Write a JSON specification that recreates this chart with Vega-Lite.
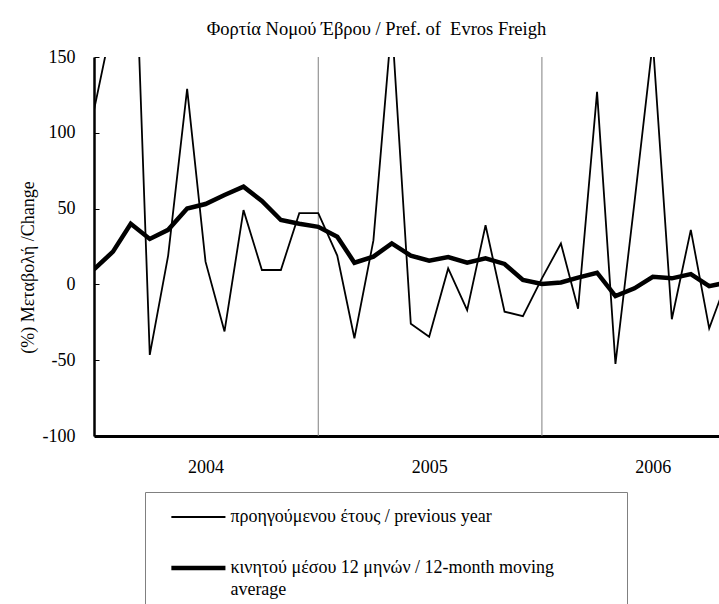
{
  "$schema": "https://vega.github.io/schema/vega-lite/v6.json",
  "width": 625,
  "height": 379,
  "autosize": "none",
  "padding": {"left": 94, "top": 57, "right": 0, "bottom": 168},
  "background": "white",
  "config": {
    "view": {"stroke": null},
    "font": "Liberation Serif",
    "axis": {"labelFont": "Liberation Serif", "titleFont": "Liberation Serif", "labelColor": "black", "titleColor": "black"},
    "legend": {"labelFont": "Liberation Serif"}
  },
  "title": {
    "text": "Φορτία Νομού Έβρου / Pref. of \u00a0Evros Freigh",
    "font": "Liberation Serif",
    "fontSize": 18.5,
    "fontWeight": "normal",
    "color": "black",
    "offset": 10,
    "dx": -30
  },
  "datasets": {
    "series": [
      {"date": "2004-01-01", "s": "yoy", "value": 115},
      {"date": "2004-02-01", "s": "yoy", "value": 175},
      {"date": "2004-03-01", "s": "yoy", "value": 310},
      {"date": "2004-04-01", "s": "yoy", "value": -46.5},
      {"date": "2004-05-01", "s": "yoy", "value": 19},
      {"date": "2004-06-01", "s": "yoy", "value": 129},
      {"date": "2004-07-01", "s": "yoy", "value": 15},
      {"date": "2004-08-01", "s": "yoy", "value": -31},
      {"date": "2004-09-01", "s": "yoy", "value": 49},
      {"date": "2004-10-01", "s": "yoy", "value": 9.5},
      {"date": "2004-11-01", "s": "yoy", "value": 9.5},
      {"date": "2004-12-01", "s": "yoy", "value": 47},
      {"date": "2005-01-01", "s": "yoy", "value": 47},
      {"date": "2005-02-01", "s": "yoy", "value": 19},
      {"date": "2005-03-01", "s": "yoy", "value": -35.5},
      {"date": "2005-04-01", "s": "yoy", "value": 29},
      {"date": "2005-05-01", "s": "yoy", "value": 173},
      {"date": "2005-06-01", "s": "yoy", "value": -26},
      {"date": "2005-07-01", "s": "yoy", "value": -34.5},
      {"date": "2005-08-01", "s": "yoy", "value": 10.5},
      {"date": "2005-09-01", "s": "yoy", "value": -17},
      {"date": "2005-10-01", "s": "yoy", "value": 39},
      {"date": "2005-11-01", "s": "yoy", "value": -18},
      {"date": "2005-12-01", "s": "yoy", "value": -21},
      {"date": "2006-01-01", "s": "yoy", "value": 4},
      {"date": "2006-02-01", "s": "yoy", "value": 27},
      {"date": "2006-03-01", "s": "yoy", "value": -16},
      {"date": "2006-04-01", "s": "yoy", "value": 127},
      {"date": "2006-05-01", "s": "yoy", "value": -52.5},
      {"date": "2006-06-01", "s": "yoy", "value": 54},
      {"date": "2006-07-01", "s": "yoy", "value": 160},
      {"date": "2006-08-01", "s": "yoy", "value": -23},
      {"date": "2006-09-01", "s": "yoy", "value": 36},
      {"date": "2006-10-01", "s": "yoy", "value": -29},
      {"date": "2006-11-01", "s": "yoy", "value": 5},
      {"date": "2004-01-01", "s": "ma", "value": 10},
      {"date": "2004-02-01", "s": "ma", "value": 21.6},
      {"date": "2004-03-01", "s": "ma", "value": 40},
      {"date": "2004-04-01", "s": "ma", "value": 30},
      {"date": "2004-05-01", "s": "ma", "value": 36},
      {"date": "2004-06-01", "s": "ma", "value": 50},
      {"date": "2004-07-01", "s": "ma", "value": 53},
      {"date": "2004-08-01", "s": "ma", "value": 59},
      {"date": "2004-09-01", "s": "ma", "value": 64.5},
      {"date": "2004-10-01", "s": "ma", "value": 55},
      {"date": "2004-11-01", "s": "ma", "value": 42.5},
      {"date": "2004-12-01", "s": "ma", "value": 40},
      {"date": "2005-01-01", "s": "ma", "value": 38},
      {"date": "2005-02-01", "s": "ma", "value": 31.5},
      {"date": "2005-03-01", "s": "ma", "value": 14.3},
      {"date": "2005-04-01", "s": "ma", "value": 18.3},
      {"date": "2005-05-01", "s": "ma", "value": 27},
      {"date": "2005-06-01", "s": "ma", "value": 19},
      {"date": "2005-07-01", "s": "ma", "value": 15.6},
      {"date": "2005-08-01", "s": "ma", "value": 18},
      {"date": "2005-09-01", "s": "ma", "value": 14.3},
      {"date": "2005-10-01", "s": "ma", "value": 17.2},
      {"date": "2005-11-01", "s": "ma", "value": 13.5},
      {"date": "2005-12-01", "s": "ma", "value": 3},
      {"date": "2006-01-01", "s": "ma", "value": 0.3},
      {"date": "2006-02-01", "s": "ma", "value": 1.3},
      {"date": "2006-03-01", "s": "ma", "value": 4.5},
      {"date": "2006-04-01", "s": "ma", "value": 7.7},
      {"date": "2006-05-01", "s": "ma", "value": -7.7},
      {"date": "2006-06-01", "s": "ma", "value": -2.6},
      {"date": "2006-07-01", "s": "ma", "value": 5},
      {"date": "2006-08-01", "s": "ma", "value": 4},
      {"date": "2006-09-01", "s": "ma", "value": 6.8},
      {"date": "2006-10-01", "s": "ma", "value": -1.2},
      {"date": "2006-11-01", "s": "ma", "value": 1.5}
    ],
    "years": [
      {"date": "2005-01-01"},
      {"date": "2006-01-01"}
    ]
  },
  "layer": [
    {
      "data": {"name": "years"},
      "mark": {"type": "rule", "color": "#7f7f7f", "strokeWidth": 1},
      "encoding": {
        "x": {"field": "date", "type": "temporal"}
      }
    },
    {
      "mark": {"type": "rule", "color": "#7f7f7f", "strokeWidth": 1},
      "encoding": {"y": {"datum": 0, "type": "quantitative"}}
    },
    {
      "data": {"name": "series"},
      "mark": {"type": "line", "color": "black", "clip": true, "strokeJoin": "miter"},
      "encoding": {
        "x": {
          "field": "date",
          "type": "temporal",
          "scale": {"domain": [{"year": 2004, "month": 1, "date": 1}, {"year": 2006, "month": 10, "date": 17}]},
          "axis": {
            "title": null,
            "values": [{"year": 2004, "month": 7, "date": 1}, {"year": 2005, "month": 7, "date": 1}, {"year": 2006, "month": 7, "date": 1}],
            "format": "%Y",
            "ticks": false,
            "grid": false,
            "domainColor": "black",
            "domainWidth": 3,
            "labelFontSize": 18,
            "labelPadding": 22
          }
        },
        "y": {
          "field": "value",
          "type": "quantitative",
          "scale": {"domain": [-100, 150], "nice": false},
          "axis": {
            "title": "(%) Μεταβολή /Change",
            "titleFontSize": 18,
            "titleFontWeight": "normal",
            "titleAngle": -90,
            "titleX": -66,
            "titleY": 210,
            "titleBaseline": "middle",
            "titleAlign": "center",
            "values": [-100, -50, 0, 50, 100, 150],
            "labelExpr": "'' + datum.value",
            "grid": false,
            "domainColor": "black",
            "domainWidth": 2.5,
            "tickColor": "black",
            "tickSize": -5,
            "tickWidth": 1,
            "labelFontSize": 18,
            "labelPadding": 24
          }
        },
        "detail": {"field": "s"},
        "strokeWidth": {
          "field": "s",
          "type": "nominal",
          "scale": {"domain": ["yoy", "ma"], "range": [1.8, 4.5]},
          "legend": {
            "title": null,
            "orient": "none",
            "legendX": 51,
            "legendY": 435,
            "padding": 16,
            "strokeColor": "#808080",
            "fillColor": "white",
            "symbolType": "M-5,0H5M74.5,0",
            "symbolStrokeColor": "black",
            "symbolFillColor": "transparent",
            "symbolSize": 117,
            "symbolOffset": 28.4,
            "labelFontSize": 18,
            "labelColor": "black",
            "labelLimit": 700,
            "labelOffset": 23,
            "labelBaseline": "alphabetic",
            "rowPadding": 33,
            "labelExpr": "datum.value == 'yoy' ? 'προηγούμενου έτους / previous year' : ['κινητού μέσου 12 μηνών / 12-month moving', 'average']",
            "encode": {
              "labels": {"update": {"dy": {"value": 5}, "lineHeight": {"value": 22}}}
            }
          }
        }
      }
    },
    {
      "mark": {"type": "rule", "color": "black", "strokeWidth": 2},
      "encoding": {"y": {"datum": 150, "type": "quantitative"}}
    }
  ]
}
